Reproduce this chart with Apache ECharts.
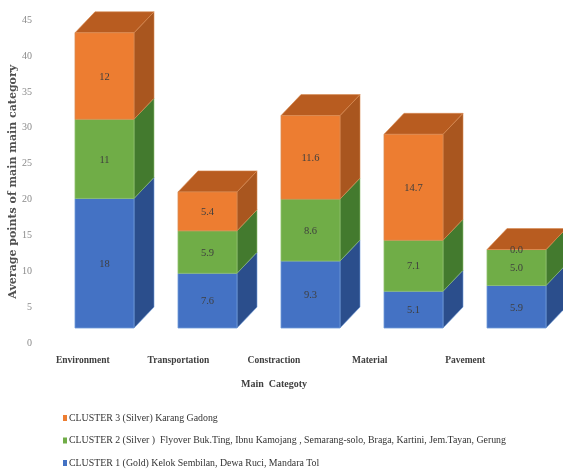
<!DOCTYPE html>
<html>
<head>
<meta charset="utf-8">
<style>html,body{margin:0;padding:0;background:#fff}#c{width:563px;height:471px}</style>
<script src="https://cdn.jsdelivr.net/npm/echarts@6/dist/echarts.min.js"></script>
</head>
<body>
<div id="c"></div>
<script>
const categories = ['Environment', 'Transportation', 'Constraction', 'Material', 'Pavement'];
const cluster1 = [18, 7.6, 9.3, 5.1, 5.9];
const cluster2 = [11, 5.9, 8.6, 7.1, 5.0];
const cluster3 = [12, 5.4, 11.6, 14.7, 0.0];
const labels1 = ['18', '7.6', '9.3', '5.1', '5.9'];
const labels2 = ['11', '5.9', '8.6', '7.1', '5.0'];
const labels3 = ['12', '5.4', '11.6', '14.7', '0.0'];
const name1 = 'CLUSTER 1 (Gold) Kelok Sembilan, Dewa Ruci, Mandara Tol';
const name2 = 'CLUSTER 2 (Silver )  Flyover Buk.Ting, Ibnu Kamojang , Semarang-solo, Braga, Kartini, Jem.Tayan, Gerung';
const name3 = 'CLUSTER 3 (Silver) Karang Gadong';

const serif = '"Liberation Serif", serif';
const depthX = 20, depthY = 21, barRatio = 59 / 103;

function render(front, side, top, edge, labels, drawTop) {
  return function (params, api) {
    const i = api.value(0);
    const p0 = api.coord([i, api.value(1)]);
    const p1 = api.coord([i, api.value(2)]);
    const w = api.size([1, 0])[0] * barRatio;
    const l = p0[0] - w / 2, r = p0[0] + w / 2, b = p0[1], t = p1[1];
    const kids = [
      { type: 'polygon', shape: { points: [[r, b], [r + depthX, b - depthY], [r + depthX, t - depthY], [r, t]] },
        style: { fill: side, stroke: edge, lineWidth: 0.6 } }
    ];
    if (drawTop) {
      kids.push({ type: 'polygon', shape: { points: [[l, t], [l + depthX, t - depthY], [r + depthX, t - depthY], [r, t]] },
        style: { fill: top, stroke: edge, lineWidth: 0.6 } });
    }
    kids.push({ type: 'rect', shape: { x: l, y: t, width: w, height: b - t },
      style: { fill: front, stroke: edge, lineWidth: 0.8 } });
    kids.push({ type: 'text', z2: 10, style: { text: labels[i], x: (l + r) / 2, y: (t + b) / 2 + 1,
      fill: '#3f3f3f', font: '10.5px ' + serif, align: 'center', verticalAlign: 'middle' } });
    return { type: 'group', children: kids };
  };
}

function stacked(values, lower) {
  return values.map((v, i) => {
    const base = lower.reduce((s, arr) => s + arr[i], 0);
    return [i, base, base + v];
  });
}

function clusterSeries(name, values, lower, front, side, top, edge, labels, drawTop) {
  return {
    name, type: 'custom', xAxisIndex: 1, yAxisIndex: 1, clip: false,
    itemStyle: { color: front },
    encode: { x: 0, y: [1, 2] },
    data: stacked(values, lower),
    renderItem: render(front, side, top, edge, labels, drawTop)
  };
}

const chart = echarts.init(document.getElementById('c'), null, { renderer: 'canvas' });
chart.setOption({
  animation: false,
  backgroundColor: '#fff',
  textStyle: { fontFamily: serif },
  grid: [
    { left: 35, width: 478, top: 20, height: 323.5, outerBoundsMode: 'none' },
    { left: 53, width: 515, top: 4, height: 324, outerBoundsMode: 'none' }
  ],
  xAxis: [
    { type: 'category', gridIndex: 0, data: categories,
      axisLine: { show: false }, axisTick: { show: false },
      axisLabel: { color: '#404040', fontSize: 9.5, fontWeight: 'bold', fontFamily: serif, margin: 12, interval: 0 },
      name: 'Main  Categoty', nameLocation: 'middle', nameGap: 36,
      nameTextStyle: { color: '#404040', fontSize: 10, fontWeight: 'bold', fontFamily: serif } },
    { type: 'category', gridIndex: 1, data: categories, show: false }
  ],
  yAxis: [
    { type: 'value', gridIndex: 0, min: 0, max: 45, interval: 5,
      axisLine: { show: false }, axisTick: { show: false }, splitLine: { show: false },
      axisLabel: { color: '#8a8a8a', fontSize: 10, fontFamily: serif, margin: 3 },
      name: 'Average points of main main category', nameLocation: 'middle', nameGap: 16, nameRotate: 90, nameMoveOverlap: false,
      nameTextStyle: { color: '#505050', fontSize: 11, fontWeight: 'bold', fontFamily: '"DejaVu Serif", serif' } },
    { type: 'value', gridIndex: 1, min: 0, max: 45, show: false }
  ],
  legend: {
    orient: 'vertical', left: 63, top: 413, padding: 0, height: 58, itemWidth: 4, itemHeight: 6, itemGap: 12.5,
    icon: 'rect', data: [name3, name2, name1],
    textStyle: { color: '#333', fontSize: 9.85, fontFamily: serif, padding: [0, 0, 0, -3] }
  },
  series: [
    clusterSeries(name1, cluster1, [], '#4472C4', '#2B4E8C', '#2B4E8C', '#6f9ad8', labels1, false),
    clusterSeries(name2, cluster2, [cluster1], '#70AD47', '#437A2E', '#437A2E', '#8fc06f', labels2, false),
    clusterSeries(name3, cluster3, [cluster1, cluster2], '#ED7D31', '#A9561F', '#B85C20', '#d98a50', labels3, true)
  ]
});
</script>
</body>
</html>
